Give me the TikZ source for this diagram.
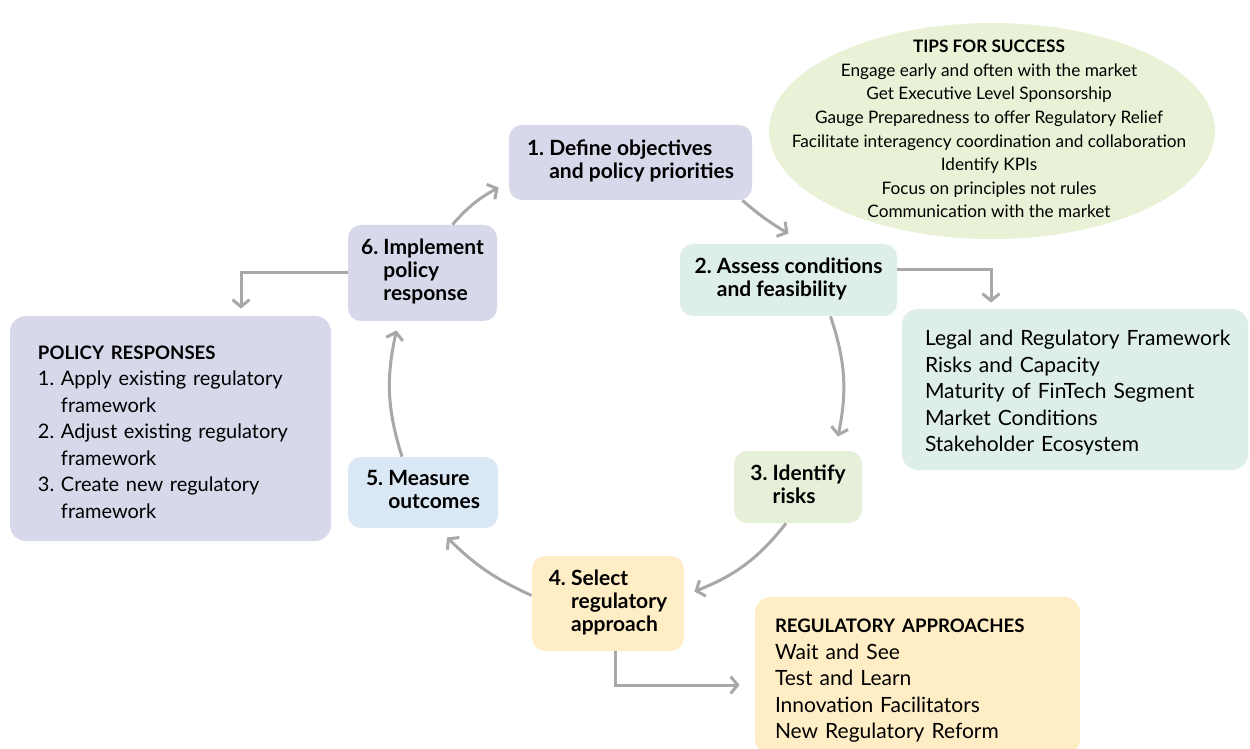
\documentclass[tikz,border=0pt]{standalone}
\usepackage{fontspec}
\setmainfont{Lato}
\usetikzlibrary{arrows.meta}
\usetikzlibrary{positioning}

\definecolor{lavender}{HTML}{D7D9EB}
\definecolor{mint}{HTML}{DDEFE6}
\definecolor{sage}{HTML}{E6F0D8}
\definecolor{tipsgreen}{HTML}{E9F1D6}
\definecolor{cream}{HTML}{FFEDC6}
\definecolor{skyblue}{HTML}{DAE8F6}
\definecolor{arrowgray}{HTML}{A8A8A8}

% number with hanging lines
\newcommand{\numtext}[2]{\begin{tabular}{@{}l@{\ }l@{}}#1&\begin{tabular}[t]{@{}l@{}}#2\end{tabular}\end{tabular}}

\begin{document}
\begin{tikzpicture}[x=0.5pt,y=-0.5pt] % one unit = one pixel of the layout
    \tikzstyle{stepbox}=[rounded corners=6.5pt, inner sep=0pt, font=\fontsize{10.5}{11.5}\selectfont\bfseries]
    \tikzstyle{listbox}=[rounded corners=8pt, inner ysep=0pt, align=left, font=\fontsize{10.5}{13.25}\selectfont]
    \tikzstyle{flow}=[draw=arrowgray, line width=1.5pt, -{Straight Barb[length=3.5pt,width=8.5pt]}]
    \useasboundingbox (0,0) rectangle (1250,749);

    % tips for success
    \fill[tipsgreen] (992,131) ellipse [x radius=111.5pt, y radius=54pt];
    \node[align=center, font=\fontsize{8.6}{11.8}\selectfont] (tips) at (989,129) {%
        {\bfseries TIPS FOR SUCCESS}\\
        Engage early and often with the market\\
        Get Executive Level Sponsorship\\
        Gauge Preparedness to offer Regulatory Relief\\
        Facilitate interagency coordination and collaboration\\
        Identify KPIs\\
        Focus on principles not rules\\
        Communication with the market};

    % the six steps
    \node[stepbox, fill=lavender, minimum width=121.5pt, minimum height=37.5pt] (s1) at (630.5,162.5)
        {\numtext{1.}{Define objectives\\and policy priorities}};
    \node[stepbox, fill=mint, minimum width=108.5pt, minimum height=36pt] (s2) at (788.5,280)
        {\numtext{2.}{Assess conditions\\and feasibility}};
    \node[stepbox, fill=sage, minimum width=64pt, minimum height=36pt] (s3) at (798,487)
        {\numtext{3.}{Identify\\risks}};
    \node[stepbox, fill=cream, minimum width=76pt, minimum height=47.5pt] (s4) at (608,603.5)
        {\numtext{4.}{Select\\regulatory\\approach}};
    \node[stepbox, fill=skyblue, minimum width=75pt, minimum height=35.5pt] (s5) at (423,492.5)
        {\numtext{5.}{Measure\\outcomes}};
    \node[stepbox, fill=lavender, minimum width=74.5pt, minimum height=48pt] (s6) at (422.5,273)
        {\numtext{6.}{Implement\\policy\\response}};

    % side boxes
    \node[listbox, fill=mint, inner xsep=11.5pt, text width=150pt, minimum height=80.5pt] (cond) at (1075,389.5)
        {\begin{tabular}{@{}l@{}}
         \rule{0pt}{13.3pt}Legal and Regulatory Framework\\
         Risks and Capacity\\
         Maturity of FinTech Segment\\
         Market Conditions\\
         Stakeholder Ecosystem
         \end{tabular}};
    \node[listbox, fill=lavender, inner xsep=14pt, text width=132.5pt, minimum height=112.5pt, font=\fontsize{10}{13.25}\selectfont] (policy) at (170.5,428.5)
        {\begin{tabular}{@{}l@{\ }l@{}}
         \multicolumn{2}{@{}l@{}}{\rule{0pt}{14.3pt}\fontsize{9.3}{13.25}\selectfont\bfseries POLICY RESPONSES}\\
         1.&Apply existing regulatory\\
           &framework\\
         2.&Adjust existing regulatory\\
           &framework\\
         3.&Create new regulatory\\
           &framework
         \end{tabular}};
    \node[listbox, fill=cream, inner xsep=10pt, text width=142.5pt, minimum height=79pt] (appr) at (917.5,676)
        {\rule{0pt}{11.7pt}{\fontsize{9.3}{13.25}\selectfont\bfseries REGULATORY APPROACHES}\\
         Wait and See\\
         Test and Learn\\
         Innovation Facilitators\\
         New Regulatory Reform};

    % cycle
    \draw[flow] ([xshift=-5pt]s1.south east) to[bend right=5] ([yshift=5pt]s2.north);
    \draw[flow] ([xshift=21pt]s2.south) to[bend left=15] ([xshift=20pt,yshift=7pt]s3.north);
    \draw[flow] ([xshift=-6pt]s3.south) to[bend left=15] ([xshift=5pt,yshift=6pt]s4.east);
    \draw[flow] ([yshift=4pt]s4.west) to[bend left=10] ([xshift=12pt,yshift=-4.5pt]s5.south);
    \draw[flow] ([xshift=-10.5pt]s5.north) to[bend left=15] ([xshift=-13pt,yshift=-4.5pt]s6.south);
    \draw[flow] ([xshift=15pt]s6.north) to[bend left=10] ([xshift=-5pt,yshift=-12.5pt]s1.west);

    % to the side boxes
    \draw[flow] ([yshift=5pt]s2.east) -| ([xshift=-42pt,yshift=3pt]cond.north);
    \draw[flow] (s6.west) -| ([xshift=35.25pt,yshift=3.5pt]policy.north);
    \draw[flow] ([xshift=3.5pt]s4.south) |- ([xshift=-7.5pt,yshift=-4.5pt]appr.west);
\end{tikzpicture}
\end{document}
